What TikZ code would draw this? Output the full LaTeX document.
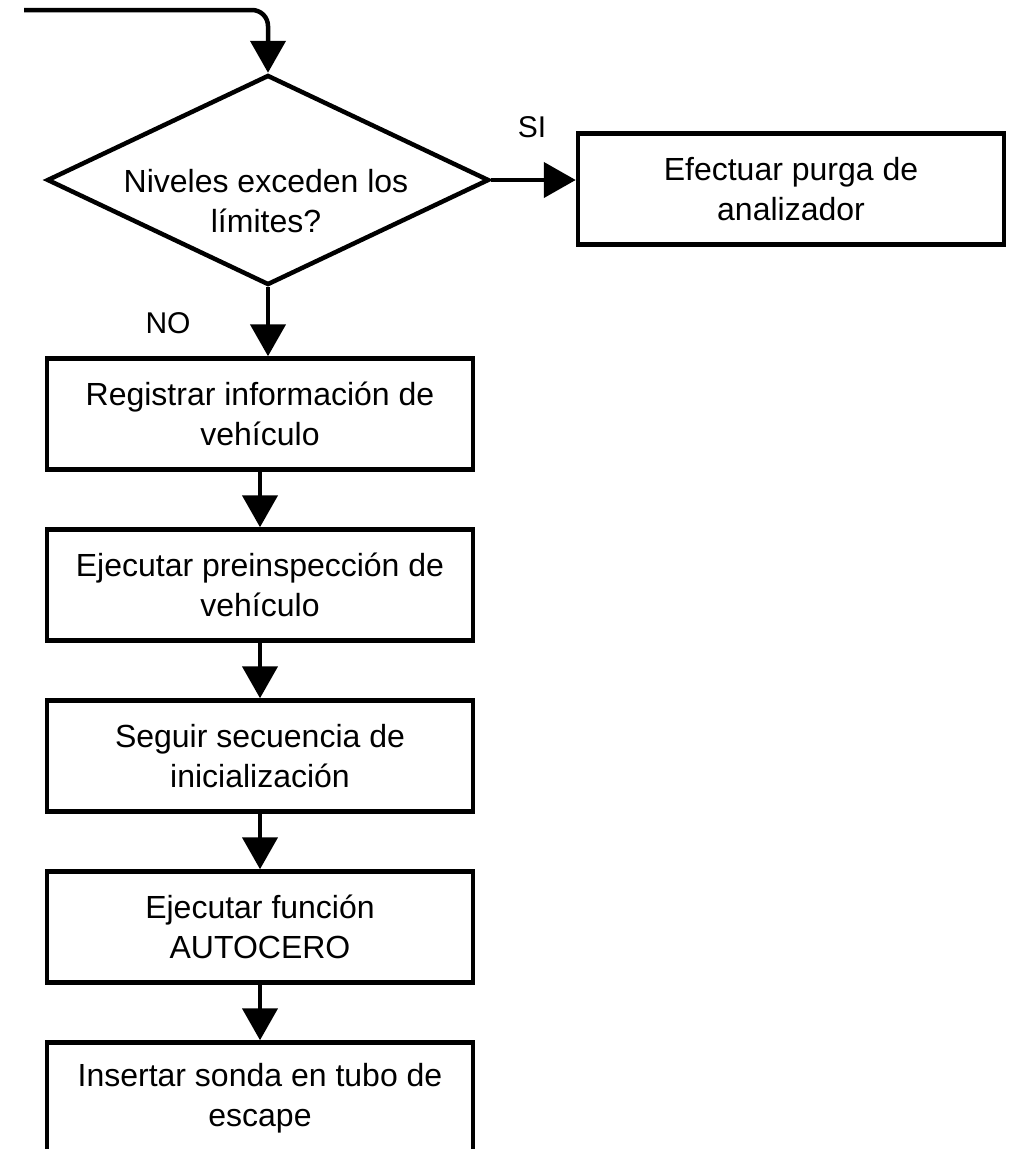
\documentclass[tikz,border=0pt]{standalone}
\usepackage{fontspec}
\setmainfont{Liberation Sans}
\usetikzlibrary{arrows.meta,shapes.geometric}
\begin{document}
\begin{tikzpicture}[x=1pt,y=-1pt,
  line width=4.5pt,
  txt/.style={font=\fontsize{32}{40}\selectfont, align=center, inner sep=0pt},
  procbox/.style={draw, rectangle, minimum width=426pt, minimum height=111pt, inner sep=0pt, txt},
  decbox/.style={draw, diamond, minimum width=442pt, minimum height=210pt, inner sep=0pt},
  flow/.style={-{Triangle[length=32pt,width=35pt]}},
  lbl/.style={font=\fontsize{30}{36}\selectfont, inner sep=0pt}]
\useasboundingbox (0,0) rectangle (1015,1149);
\clip (0,0) rectangle (1015,1149);
\fill[white] (0,0) rectangle (1015,1149);

\node[decbox] (d) at (268,180) {};
\node[txt] (dt) at (266,201) {Niveles exceden los\\límites?};
\node[procbox] (e) at (791,189) {Efectuar purga de\\analizador};
\node[procbox] (b1) at (260,414) {Registrar información de\\vehículo};
\node[procbox] (b2) at (260,585) {Ejecutar preinspección de\\vehículo};
\node[procbox] (b3) at (260,756) {Seguir secuencia de\\inicialización};
\node[procbox] (b4) at (260,927) {Ejecutar función\\AUTOCERO};
\node[procbox] (b5) at (260,1098) {Insertar sonda en tubo de\\escape};

\node[lbl] (si) at (532,127) {SI};
\node[lbl] (no) at (168,323) {NO};

\coordinate (start) at (24,10);
\draw[flow, rounded corners=16pt] (start) -| (d.north);
\draw[flow] (d.east) -- (d.east -| e.west);
\draw[flow] (d.south) -- (d.south |- b1.north);
\draw[flow] (b1) -- (b2);
\draw[flow] (b2) -- (b3);
\draw[flow] (b3) -- (b4);
\draw[flow] (b4) -- (b5);
\end{tikzpicture}
\end{document}
